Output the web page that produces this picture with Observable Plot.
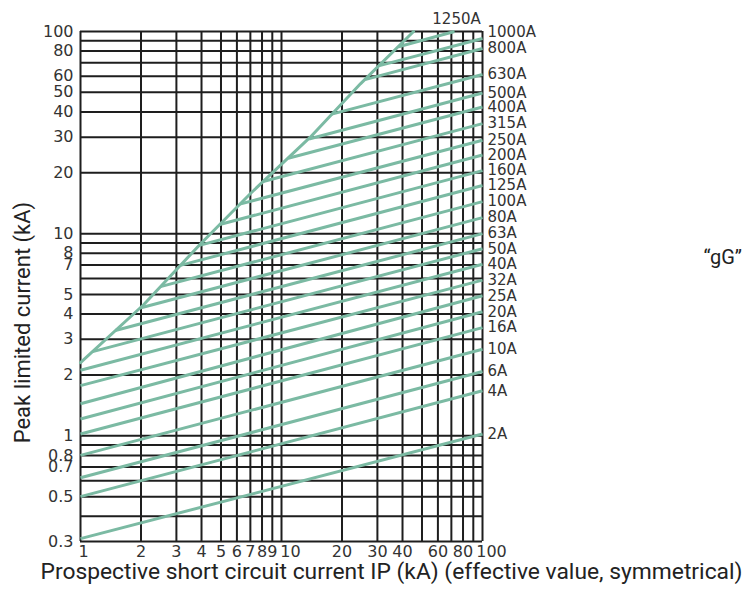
<!DOCTYPE html>
<html><head><meta charset="utf-8">
<script src="https://cdn.jsdelivr.net/npm/d3@7"></script>
<script src="https://cdn.jsdelivr.net/npm/@observablehq/plot@0.6"></script>
<style>html,body{margin:0;padding:0;background:#fff;overflow:hidden}#chart svg{display:block}</style>
</head><body><div id="chart"></div>
<script>
// Grid lines and tick labels
const xGrid = [1,2,3,4,5,6,7,8,9,10,20,30,40,50,60,70,80,90,100];
const yGrid = [0.3,0.4,0.5,0.6,0.7,0.8,0.9,1,2,3,4,5,6,7,8,9,10,20,30,40,50,60,70,80,90,100];
const xTicks = [2,3,4,5,6,7,8,9,20,30,40,60,80];
const xTicksFirst = [1];
const xTicksShifted = [10,100];
const yTicks = [0.3,0.5,0.7,0.8,1,2,3,4,5,7,8,10,20,30,40,50,60,80,100];

// Fuse ratings: straight cut-off lines (start / end points)
const ratings = ["2A","4A","6A","10A","16A","20A","25A","32A","40A","50A","63A","80A","100A","125A","160A","200A","250A","315A","400A","500A","630A","800A","1000A","1250A"];
const startX = [1,1,1,1,1,1,1,1,1,1.15,1.49,1.98,2.5,3.14,3.9,4.93,6.2,8.11,10.8,13.7,17.8,26,30.4,38.2];
const startY = [0.31,0.50,0.62,0.80,1.02,1.21,1.44,1.77,2.11,2.61,3.32,4.29,5.47,6.97,8.75,11.1,14.0,18.1,23.6,29.4,39.0,57.8,67.6,84.0];
const endX = [100,100,100,100,100,100,100,100,100,100,100,100,100,100,100,100,100,100,100,100,100,100,100,72.6];
const endY = [1.02,1.67,2.08,2.68,3.43,4.11,4.93,5.89,7.06,8.42,10.0,12.0,14.4,17.3,20.5,24.5,29.0,35.0,42.3,49.6,61.3,82.4,92.3,100];

// Maximum peak (envelope) curve
const envX = [1,2.06,3.95,7.01,13.9,24.7,45.4];
const envY = [2.30,4.45,8.89,15.8,30.0,55.1,100];

const yTitle = "Peak limited current (kA)";
const xTitle = "Prospective short circuit current IP (kA) (effective value, symmetrical)";
const sideNote = "\u201CgG\u201D";

const fuses = ratings.map((r, i) => ({rating: r, x1: startX[i], y1: startY[i], x2: endX[i], y2: endY[i]}));
const envelope = envX.map((x, i) => ({x, y: envY[i]}));

const green = "#7bbaa3";
const gridColor = "#1e1e1e";
const labelColor = "#333";
const fmt = d => String(d);

const chart = Plot.plot({
  width: 745, height: 599,
  marginLeft: 80, marginRight: 263, marginTop: 31, marginBottom: 58,
  style: {background: "#fff", fontFamily: "DejaVu Sans", color: labelColor, overflow: "visible"},
  x: {type: "log", domain: [1, 100], axis: null},
  y: {type: "log", domain: [0.3, 100], axis: null},
  marks: [
    Plot.ruleX(xGrid, {stroke: gridColor, strokeWidth: 2}),
    Plot.ruleY(yGrid, {stroke: gridColor, strokeWidth: 2}),
    Plot.line(envelope, {x: "x", y: "y", stroke: green, strokeWidth: 3}),
    Plot.link(fuses, {x1: "x1", y1: "y1", x2: "x2", y2: "y2", stroke: green, strokeWidth: 3}),
    // tick labels
    Plot.text(xTicks, {x: d => d, text: fmt, frameAnchor: "bottom", lineAnchor: "top", textAnchor: "middle", dy: 4, fontSize: 16, fill: labelColor}),
    Plot.text(xTicksFirst, {x: d => d, text: fmt, frameAnchor: "bottom", lineAnchor: "top", textAnchor: "middle", dy: 4, dx: 3, fontSize: 16, fill: labelColor}),
    Plot.text(xTicksShifted, {x: d => d, text: fmt, frameAnchor: "bottom", lineAnchor: "top", textAnchor: "middle", dy: 4, dx: 9, fontSize: 16, fill: labelColor}),
    Plot.text(yTicks, {y: d => d, text: fmt, frameAnchor: "left", textAnchor: "end", dx: -7, fontSize: 16, fill: labelColor}),
    // fuse rating labels
    Plot.text(fuses.filter(d => d.rating !== "1000A" && d.rating !== "1250A"), {x: "x2", y: "y2", text: "rating", textAnchor: "start", dx: 5, fontSize: 15, fill: labelColor}),
    Plot.text(fuses.filter(d => d.rating === "1000A"), {x: "x2", y: "y2", text: "rating", textAnchor: "start", dx: 5, dy: -6, fontSize: 15, fill: labelColor}),
    Plot.text(fuses.filter(d => d.rating === "1250A"), {x: "x2", y: "y2", text: "rating", textAnchor: "middle", dx: 2, dy: -12, fontSize: 15, fill: labelColor}),
    // titles
    Plot.text([yTitle], {frameAnchor: "left", text: d => d, rotate: -90, textAnchor: "middle", dx: -58, dy: 36, fontSize: 22, fontFamily: "Roboto", fill: "#222"}),
    Plot.text([xTitle], {frameAnchor: "bottom", text: d => d, textAnchor: "middle", dx: 110, dy: 37, fontSize: 22, fontFamily: "Roboto", fill: "#222", className: "xtitle"}),
    Plot.text([sideNote], {frameAnchor: "top-left", text: d => d, textAnchor: "start", dx: 623, dy: 218, fontSize: 20, fontFamily: "Roboto", fill: "#222"})
  ]
});
document.getElementById("chart").appendChild(chart);
d3.select(chart).selectAll(".xtitle text").attr("textLength", 702).attr("lengthAdjust", "spacingAndGlyphs");
</script>
</body></html>
